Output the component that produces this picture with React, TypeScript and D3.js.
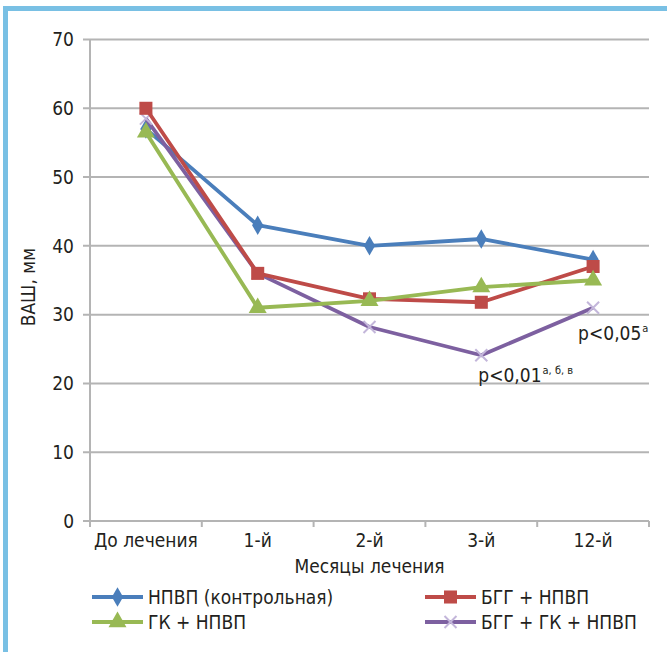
import * as d3 from "d3";
import { useRef, useEffect } from "react";

const months = ["До лечения", "1-й", "2-й", "3-й", "12-й"];
const nsaid = [57, 43, 40, 41, 38];
const bggNsaid = [60, 36, 32.3, 31.8, 37];
const gkNsaid = [56.5, 31, 32, 34, 35];
const bggGkNsaid = [58.5, 36, 28.2, 24.1, 31];
const yTicks = [0, 10, 20, 30, 40, 50, 60, 70];

const series = [
  { name: "НПВП (контрольная)", values: nsaid, color: "#4a7ebb", marker: "diamond" },
  { name: "БГГ + НПВП", values: bggNsaid, color: "#be4b48", marker: "square" },
  { name: "ГК + НПВП", values: gkNsaid, color: "#98b954", marker: "triangle" },
  { name: "БГГ + ГК + НПВП", values: bggGkNsaid, color: "#7d60a0", marker: "cross" },
];
// paint order in the plot (purple sits under red and green)
const drawOrder = [0, 3, 1, 2];

const font = "'DejaVu Sans Condensed', 'DejaVu Sans', sans-serif";
const fs = 19;

export default function App() {
  const svgRef = useRef<SVGSVGElement>(null);
  const width = 667;
  const height = 652;
  const left = 90;
  const right = 649;
  const top = 39.5;
  const bottom = 521;

  useEffect(() => {
    const svg = d3.select(svgRef.current);
    svg.selectAll("*").remove();

    const x = d3.scaleBand<string>().domain(months).range([left, right]);
    const y = d3.scaleLinear().domain([0, 70]).range([bottom, top]);
    const cx = (m: string) => x(m)! + x.bandwidth() / 2;

    svg.append("rect").attr("width", width).attr("height", height).attr("fill", "#fff");
    // frame
    svg.append("rect").attr("x", 3).attr("y", 6).attr("width", width - 3).attr("height", 5).attr("fill", "#79c0e4");
    svg.append("rect").attr("x", 3).attr("y", 6).attr("width", 5).attr("height", height - 6).attr("fill", "#79c0e4");

    // gridlines + y labels
    const gy = svg.append("g");
    yTicks.forEach((t) => {
      gy.append("line")
        .attr("x1", left - 7)
        .attr("x2", right)
        .attr("y1", y(t))
        .attr("y2", y(t))
        .attr("stroke", "#b4b4b4")
        .attr("stroke-width", 2);
      gy.append("text")
        .attr("x", left - 16)
        .attr("y", y(t))
        .attr("dy", "0.36em")
        .attr("text-anchor", "end")
        .attr("font-family", font)
        .attr("font-size", fs)
        .attr("fill", "#231f20")
        .text(t);
    });

    // axes lines
    svg.append("line")
      .attr("x1", left).attr("x2", left)
      .attr("y1", top).attr("y2", bottom + 5)
      .attr("stroke", "#b4b4b4").attr("stroke-width", 2);
    const boundaries = months.map((m) => x(m)!).concat([right]);
    boundaries.forEach((bx) => {
      svg.append("line")
        .attr("x1", bx).attr("x2", bx)
        .attr("y1", bottom).attr("y2", bottom + 6)
        .attr("stroke", "#b4b4b4").attr("stroke-width", 2);
    });

    months.forEach((m) => {
      svg.append("text")
        .attr("x", cx(m))
        .attr("y", bottom + 26)
        .attr("text-anchor", "middle")
        .attr("font-family", font)
        .attr("font-size", fs)
        .attr("fill", "#231f20")
        .text(m);
    });

    svg.append("text")
      .attr("x", (left + right) / 2)
      .attr("y", 573)
      .attr("text-anchor", "middle")
      .attr("font-family", font)
      .attr("font-size", fs)
      .attr("fill", "#231f20")
      .text("Месяцы лечения");

    svg.append("text")
      .attr("transform", `translate(35,${y(34)}) rotate(-90)`)
      .attr("text-anchor", "middle")
      .attr("font-family", font)
      .attr("font-size", fs)
      .attr("fill", "#231f20")
      .text("ВАШ, мм");

    const drawMarker = (g: any, kind: string, px: number, py: number, color: string) => {
      if (kind === "diamond") {
        g.append("path")
          .attr("d", d3.symbol(d3.symbolDiamond, 110)())
          .attr("transform", `translate(${px},${py})`)
          .attr("fill", color);
      } else if (kind === "square") {
        g.append("path")
          .attr("d", d3.symbol(d3.symbolSquare, 170)())
          .attr("transform", `translate(${px},${py})`)
          .attr("fill", color);
      } else if (kind === "triangle") {
        g.append("path")
          .attr("d", d3.symbol(d3.symbolTriangle, 140)())
          .attr("transform", `translate(${px},${py})`)
          .attr("fill", color);
      } else {
        const r = 6;
        g.append("path")
          .attr("d", `M${px - r},${py - r}L${px + r},${py + r}M${px - r},${py + r}L${px + r},${py - r}`)
          .attr("stroke", "#c3b6da")
          .attr("stroke-width", 2)
          .attr("fill", "none");
      }
    };

    const line = d3
      .line<number>()
      .x((_, i) => cx(months[i]))
      .y((d) => y(d));

    drawOrder.forEach((idx) => {
      const s = series[idx];
      const g = svg.append("g");
      g.append("path")
        .datum(s.values)
        .attr("fill", "none")
        .attr("stroke", s.color)
        .attr("stroke-width", 3.8)
        .attr("stroke-linejoin", "round")
        .attr("d", line);
      s.values.forEach((v, i) => drawMarker(g, s.marker, cx(months[i]), y(v), s.color));
    });

    // annotations
    const ann = [
      { label: "p<0,05", sup: "а", month: "12-й", dx: -15, value: 31, dy: 32 },
      { label: "p<0,01", sup: "а, б, в", month: "3-й", dx: -3, value: 24.1, dy: 27 },
    ];
    ann.forEach((a) => {
      const t = svg.append("text")
        .attr("x", cx(a.month) + a.dx)
        .attr("y", y(a.value) + a.dy)
        .attr("font-family", font)
        .attr("font-size", fs)
        .attr("fill", "#231f20");
      t.append("tspan").text(a.label);
      t.append("tspan").attr("font-size", 11).attr("dy", -8).attr("dx", 1).text(a.sup);
    });

    // legend
    const legend = [
      { s: series[0], x: 92, y: 597 },
      { s: series[1], x: 425, y: 597 },
      { s: series[2], x: 92, y: 622 },
      { s: series[3], x: 425, y: 622 },
    ];
    legend.forEach((l) => {
      const g = svg.append("g");
      g.append("line")
        .attr("x1", l.x).attr("x2", l.x + 51)
        .attr("y1", l.y).attr("y2", l.y)
        .attr("stroke", l.s.color).attr("stroke-width", 3.8);
      drawMarker(g, l.s.marker, l.x + 25.5, l.y, l.s.color);
      g.append("text")
        .attr("x", l.x + 56)
        .attr("y", l.y)
        .attr("dy", "0.36em")
        .attr("font-family", font)
        .attr("font-size", fs)
        .attr("fill", "#231f20")
        .text(l.s.name);
    });
  }, []);

  return (
    <svg
      ref={svgRef}
      width={width}
      height={height}
      style={{ position: "absolute", left: 0, top: 0 }}
    />
  );
}
